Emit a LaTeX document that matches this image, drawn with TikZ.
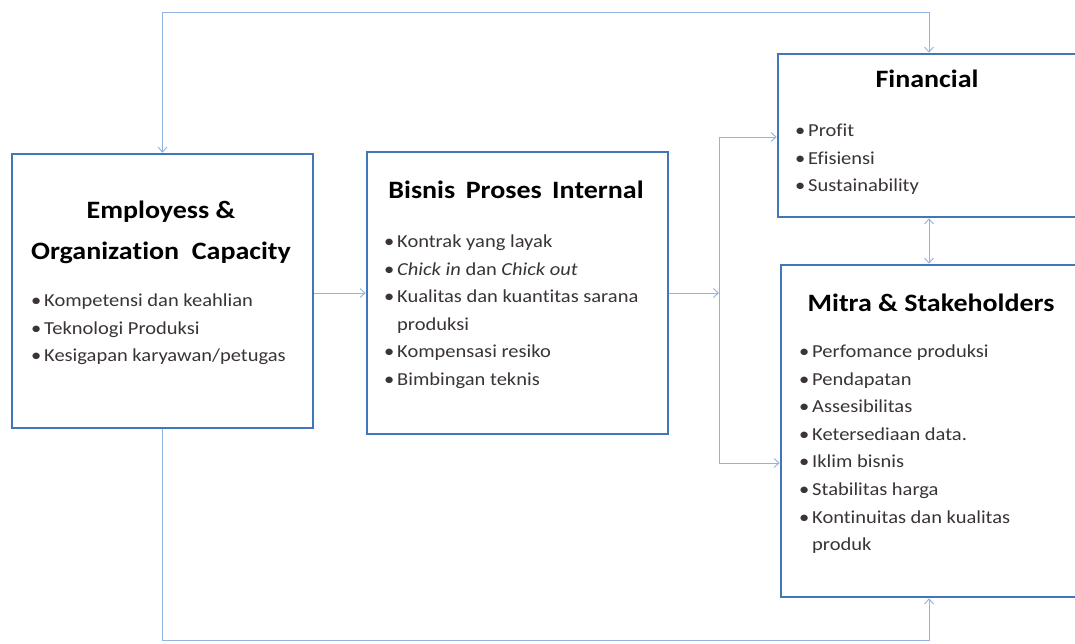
\documentclass[tikz,border=0pt]{standalone}
\usepackage{fontspec}
\setmainfont{Carlito}[FakeStretch=1.12, Ligatures={NoCommon}]
\usetikzlibrary{arrows.meta}
\definecolor{boxblue}{HTML}{4276BA}
\definecolor{linkblue}{HTML}{8FB4E0}
\definecolor{txtgray}{HTML}{3A3434}
\tikzset{
  box/.style={draw=boxblue, line width=2.6pt, fill=white, rectangle, inner sep=0pt},
  ttl/.style={font=\fontsize{25}{28}\selectfont\bfseries, text=black, inner sep=0pt, anchor=base},
  lst/.style={font=\fontsize{18.3}{27.6}\selectfont, text=txtgray, inner sep=0pt, anchor=north west, align=left},
  link/.style={draw=linkblue, line width=0.9pt},
  arr/.style={-{Straight Barb[length=5pt,width=9pt]}},
  darr/.style={{Straight Barb[length=5pt,width=9pt]}-{Straight Barb[length=5pt,width=9pt]}}
}
\newcommand{\bl}{\makebox[13pt][l]{\textbullet}}
\begin{document}
\begin{tikzpicture}[x=1pt,y=-1pt]
\useasboundingbox (0,0) rectangle (1075,644);
\clip (0,0) rectangle (1075,644);
\fill[white] (0,0) rectangle (1075,644);
\node[box, minimum width=301pt, minimum height=274pt] (emp) at (162.5,291) {};
\node[box, minimum width=301pt, minimum height=282pt] (bis) at (517.5,293) {};
\node[box, minimum width=307pt, minimum height=163pt] (fin) at (931.5,135.5) {};
\node[box, minimum width=304pt, minimum height=332pt] (mit) at (933,431) {};
\coordinate (tr) at (929,12);
\coordinate (br) at (929,640);
\coordinate (sp) at (719,293);
\coordinate (fy) at (0,137);
\coordinate (my) at (0,463);
\draw[link,darr] (emp.north) |- (tr) -- (tr |- fin.north);
\draw[link,arr] (emp.south) |- (br) -- (br |- mit.south);
\draw[link,arr] (emp.east |- sp) -- (bis.west |- sp);
\draw[link,arr] (bis.east |- sp) -- (sp);
\draw[link,arr] (sp) |- (fin.west |- fy);
\draw[link,arr] (sp) |- (mit.west |- my);
\draw[link,darr] (fin.south -| tr) -- (mit.north -| tr);
\node[ttl] (empT1) at (161,219) {Employess \&};
\node[ttl] (empT2) at (161,259) {Organization\ \ Capacity};
\node[ttl] (bisT) at (516,199) {Bisnis\, Proses\, Internal};
\node[ttl] (finT) at (927,88) {Financial};
\node[ttl] (mitT) at (931,311) {Mitra \& Stakeholders};
\node[lst] (empL) at (31,287) {\begin{tabular}{@{}l@{}l@{}}
\bl & Kompetensi dan keahlian\\
\bl & Teknologi Produksi\\
\bl & Kesigapan karyawan/petugas
\end{tabular}};
\node[lst] (bisL) at (384,228) {\begin{tabular}{@{}l@{}l@{}}
\bl & Kontrak yang layak\\
\bl & \textit{Chick in} dan \textit{Chick out}\\
\bl & Kualitas dan kuantitas sarana\\
    & produksi\\
\bl & Kompensasi resiko\\
\bl & Bimbingan teknis
\end{tabular}};
\node[lst] (finL) at (795,117) {\begin{tabular}{@{}l@{}l@{}}
\bl & Profit\\
\bl & Efisiensi\\
\bl & Sustainability
\end{tabular}};
\node[lst] (mitL) at (799,338) {\begin{tabular}{@{}l@{}l@{}}
\bl & Perfomance produksi\\
\bl & Pendapatan\\
\bl & Assesibilitas\\
\bl & Ketersediaan data.\\
\bl & Iklim bisnis\\
\bl & Stabilitas harga\\
\bl & Kontinuitas dan kualitas\\
    & produk
\end{tabular}};
\end{tikzpicture}
\end{document}
